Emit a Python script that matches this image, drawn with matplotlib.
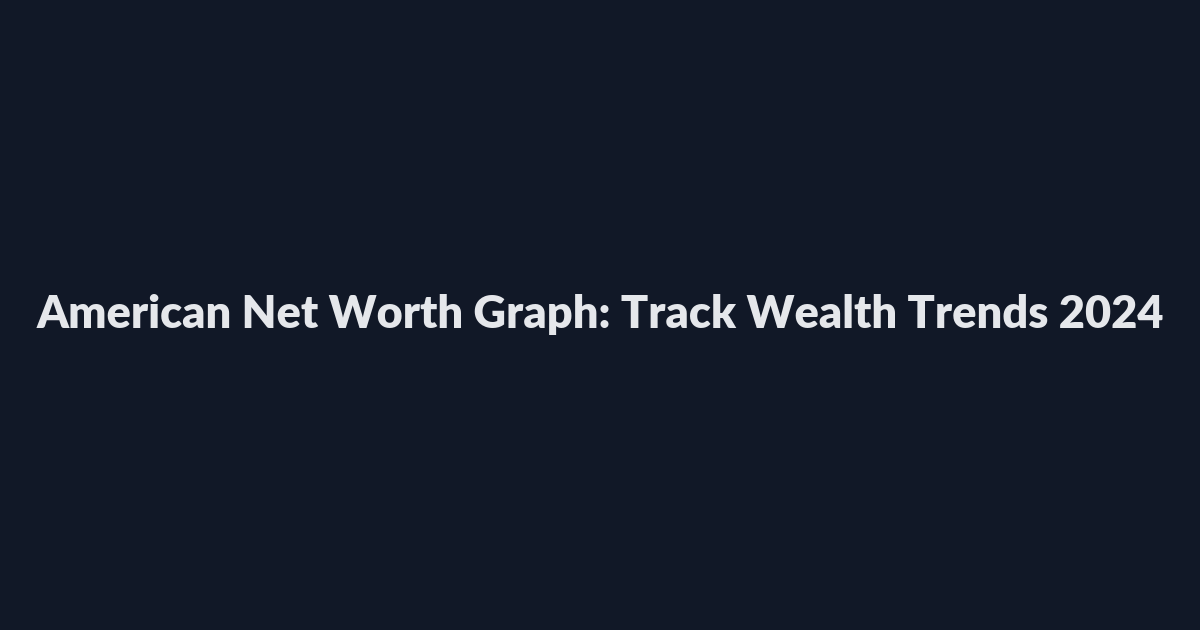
import matplotlib
matplotlib.use('Agg')
import matplotlib.pyplot as plt

# title card only, no chart data
title = 'American Net Worth Graph: Track Wealth Trends 2024'

bg = '#111827'
fg = '#e5e7eb'

fig = plt.figure(figsize=(12, 6.3), dpi=100)
fig.patch.set_facecolor(bg)

fig.text(0.5, 1 - 328 / 630, title, ha='center', va='baseline',
         fontsize=32.5, fontweight='heavy', color=fg, family=['Lato', 'DejaVu Sans'])

plt.savefig('out.png', dpi=100, facecolor=bg)
